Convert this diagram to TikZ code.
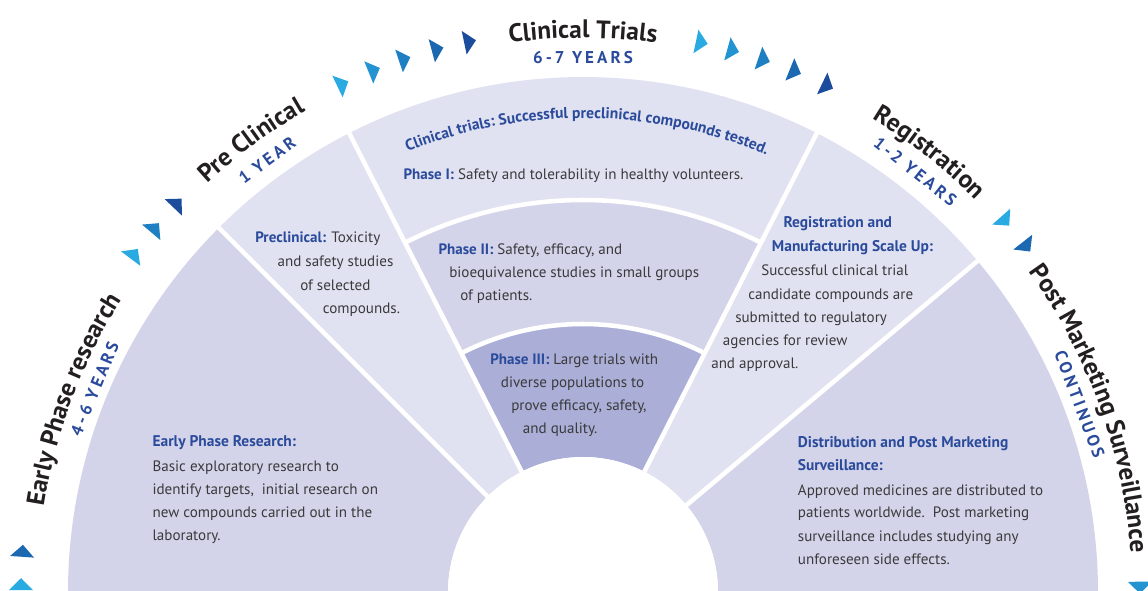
\documentclass[tikz,border=0pt]{standalone}
\usepackage{fontspec}
\setmainfont{PT Sans}
\newfontfamily\spacedfont[LetterSpace=18]{PT Sans}
\usetikzlibrary{decorations.text,calc}
\definecolor{lightreg}{HTML}{E1E2F1}
\definecolor{medreg}{HTML}{D3D4E9}
\definecolor{darkreg}{HTML}{ABAFD7}
\definecolor{hblue}{HTML}{2A4A9B}
\definecolor{bodyc}{HTML}{3A3A3C}
\definecolor{titlec}{HTML}{231F20}
\definecolor{triA}{HTML}{29ABE2}
\definecolor{triB}{HTML}{2394D1}
\definecolor{triC}{HTML}{1E7FC2}
\definecolor{triD}{HTML}{1C68B1}
\definecolor{triE}{HTML}{1C4C9C}
\newcommand\bigtitle{\fontsize{19}{22}\selectfont\bfseries\color{titlec}}
\newcommand\innertitle{\fontsize{11.7}{13}\selectfont\bfseries\color{hblue}}
\newcommand\hb[1]{\textcolor{hblue}{\bfseries #1}}
\newcommand\sector[5]{%
  \fill[#5] ([shift={(#1:#4)}]C) arc[start angle=#1, end angle=#2, radius=#4]
    -- ([shift={(#2:#3)}]C) arc[start angle=#2, end angle=#1, radius=#3] -- cycle;}
\newcommand\tri[3][562]{%
  \begin{scope}[shift={(C)}, rotate=#2]
    \fill[#3] (#1,-8) -- (#1+12,4) -- (#1-12,4) -- cycle;
  \end{scope}}
\tikzset{
  sep/.style={draw=white, line width=3.4pt},
  body/.style={font=\fontsize{11.3}{13}\selectfont, text=bodyc, inner sep=0pt, anchor=base west},
  head/.style={body, text=hblue, font=\fontsize{11.6}{13}\selectfont\bfseries},
  small/.style={font=\fontsize{12.8}{14}\selectfont\spacedfont\bfseries, text=hblue, inner sep=0pt, anchor=base},
}
\begin{document}
\begin{tikzpicture}[x=0.75pt, y=0.75pt]
\useasboundingbox (0,0) rectangle (1148,590);
\clip (0,0) rectangle (1148,590);
\coordinate (C) at (583,-2);
% sectors
\sector{180}{135}{135}{515}{medreg}
\sector{135}{117}{135}{515}{lightreg}
\sector{117}{63}{392}{515}{lightreg}
\sector{117}{63}{268}{392}{medreg}
\sector{117}{63}{135}{268}{darkreg}
\sector{63}{40}{135}{515}{lightreg}
\sector{40}{0}{135}{515}{medreg}
% separators
\foreach \a in {135,117,63,40} \draw[sep] ([shift={(\a:130)}]C) -- ([shift={(\a:520)}]C);
\draw[sep] ([shift={(117:392)}]C) arc[start angle=117, end angle=63, radius=392];
\draw[sep] ([shift={(117:268)}]C) arc[start angle=117, end angle=63, radius=268];
\fill[white] (C) circle[radius=135];
% triangles
\tri{179.4}{triA}\tri{176}{triD}
\tri{143.2}{triA}\tri{139.8}{triC}\tri{136.4}{triE}
\tri{115.5}{triA}\tri{112.0}{triB}\tri{108.7}{triC}\tri{105.2}{triD}\tri{101.8}{triE}
\tri{78.0}{triA}\tri{74.7}{triB}\tri{71.4}{triC}\tri{68.0}{triD}\tri{64.4}{triE}
\tri{41.5}{triA}\tri{38.1}{triD}
\tri[557]{0.65}{triB}
% outer curved labels
\path[decorate, decoration={text along path, text align=center, text={|\bigtitle|Clinical Trials}}]
  ([shift={(120:554)}]C) arc[start angle=120, end angle=60, radius=554];
\path[decorate, decoration={text along path, text align=center, text={|\bigtitle|Pre Clinical}}]
  ([shift={(156.3:555)}]C) arc[start angle=156.3, end angle=96.3, radius=555];
\path[decorate, decoration={text along path, text align=center, text={|\bigtitle|Registration}}]
  ([shift={(81.8:555)}]C) arc[start angle=81.8, end angle=21.8, radius=555];
\path[decorate, decoration={text along path, text align=center, text={|\bigtitle|Early Phase research}}]
  ([shift={(189.3:546)}]C) arc[start angle=189.3, end angle=129.3, radius=546];
\path[decorate, decoration={text along path, text align=center, text={|\bigtitle|Post Marketing Surveillance}}]
  ([shift={(54.9:549)}]C) arc[start angle=54.9, end angle=-15.1, radius=549];
% small labels
\node[small] (yclin) at ([shift={(90:528)}]C) {6-7 YEARS};
\node[small, rotate=36.2] (ypre) at ([shift={(126.2:529)}]C) {1 YEAR};
\node[small, rotate=-38.3] (yreg) at ([shift={(51.7:530)}]C) {1-2 YEARS};
\node[small, rotate=67.4] (yearly) at ([shift={(157.4:523)}]C) {4-6 YEARS};
\node[small, rotate=-69.3] (ypost) at ([shift={(20.7:525)}]C) {CONTINUOS};
% inner curved heading
\path[decorate, decoration={text along path, text align=center, text={|\innertitle|Clinical trials: Successful preclinical compounds tested.}}]
  ([shift={(124.5:474)}]C) arc[start angle=124.5, end angle=54.5, radius=474];
% Early phase
\node[head] (e0) at (152.3,143.3) {Early Phase Research:};
\node[body] (e1) at (152.3,118.3) {Basic exploratory research to};
\node[body] (e2) at (152.3,95.7) {identify targets,\ \ initial research on};
\node[body] (e3) at (152.3,72.3) {new compounds carried out in the};
\node[body] (e4) at (152.3,49.3) {laboratory.};
% Preclinical
\node[body] (p1) at (255,347.7) {\hb{Preclinical:} Toxicity};
\node[body] (p2) at (277.3,323.3) {and safety studies};
\node[body] (p3) at (300,300) {of selected};
\node[body] (p4) at (322.7,276.7) {compounds.};
% Phase I
\node[body] (c1) at (403.3,410) {\hb{Phase I:} Safety and tolerability in healthy volunteers.};
% Phase II
\node[body] (d1) at (438.3,336) {\hb{Phase II:} Safety, efficacy, and};
\node[body] (d2) at (449,312.7) {bioequivalence studies in small groups};
\node[body] (d3) at (460,289.3) {of patients.};
% Phase III
\node[body] (f1) at (490,226) {\hb{Phase III:} Large trials with};
\node[body] (f2) at (500.7,202.7) {diverse populations to};
\node[body] (f3) at (511,179.3) {prove efficacy, safety,};
\node[body] (f4) at (522.7,156.7) {and quality.};
% Registration
\node[head] (r1) at (783.3,362.3) {Registration and};
\node[head] (r2) at (771.7,338.3) {Manufacturing Scale Up:};
\node[body] (r3) at (761,315) {Successful clinical trial};
\node[body] (r4) at (748,291) {candidate compounds are};
\node[body] (r5) at (735,267.7) {submitted to regulatory};
\node[body] (r6) at (722.7,244.3) {agencies for review};
\node[body] (r7) at (711,221.7) {and approval.};
% Post marketing
\node[head] (m1) at (797.7,142.3) {Distribution and Post Marketing};
\node[head] (m2) at (797.7,119.3) {Surveillance:};
\node[body] (m3) at (797.7,95) {Approved medicines are distributed to};
\node[body] (m4) at (797.7,72.3) {patients worldwide.\ \ Post marketing};
\node[body] (m5) at (797.7,48.3) {surveillance includes studying any};
\node[body] (m6) at (797.7,25.7) {unforeseen side effects.};
\end{tikzpicture}
\end{document}
